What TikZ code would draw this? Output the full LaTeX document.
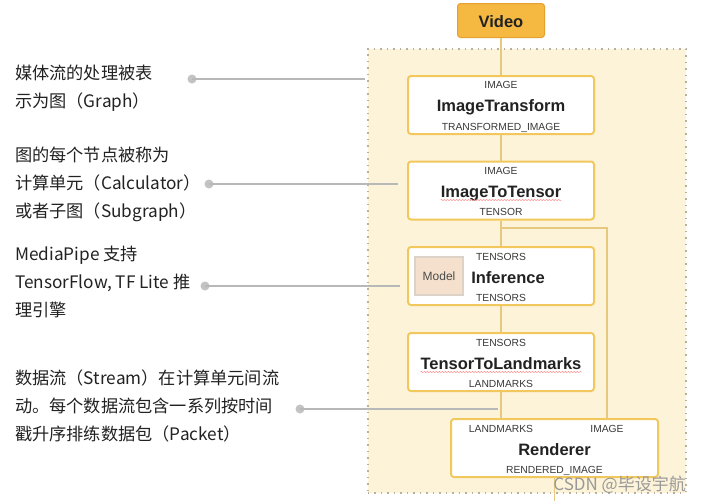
\documentclass[tikz,border=0pt]{standalone}
\usepackage{fontspec}
\setmainfont{Liberation Sans}
\newfontfamily\cjk{Noto Sans CJK SC}
\usetikzlibrary{decorations.pathmorphing}
\definecolor{videofill}{HTML}{F5B942}
\definecolor{videoedge}{HTML}{E6A030}
\definecolor{panelfill}{HTML}{FDF3D9}
\definecolor{paneldot}{HTML}{B8B09E}
\definecolor{boxedge}{HTML}{F2C85C}
\definecolor{flow}{HTML}{E6C97E}
\definecolor{modelfill}{HTML}{F4E0CC}
\definecolor{modeledge}{HTML}{DCD2C8}
\definecolor{callout}{HTML}{B8B8B8}
\definecolor{txt}{HTML}{222222}
\begin{document}
\begin{tikzpicture}[x=1pt,y=-1pt,
  calc/.style={draw=boxedge,line width=2pt,fill=white,rounded corners=3pt,minimum width=186pt,minimum height=58pt,inner sep=0pt},
  port/.style={font=\fontsize{10.3}{12}\selectfont,text=txt!90!white,inner sep=0pt,anchor=base},
  title/.style={font=\fontsize{16.5}{20}\selectfont\bfseries,text=txt,inner sep=0pt,anchor=base},
  note/.style={font=\cjk\fontsize{17.2}{28}\selectfont,text=txt,inner sep=0pt,anchor=base west,align=left},
  flowline/.style={draw=flow,line width=1.1pt},
  calloutline/.style={draw=callout,line width=1.8pt},
  calloutdot/.style={circle,fill=callout!85!white,minimum size=9pt,inner sep=0pt},
  squiggle/.style={draw=red!45,line width=0.5pt,decorate,decoration={snake,amplitude=0.6pt,segment length=3pt}}]
\useasboundingbox (0,0) rectangle (702,501);
\fill[white] (0,0) rectangle (702,501);
% panel
\node[draw=paneldot,fill=panelfill,line width=1.8pt,dash pattern=on 1.5pt off 5pt,minimum width=318pt,minimum height=444pt,anchor=north west,inner sep=0pt] (panel) at (367,48) {};
% video
\node[draw=videoedge,fill=videofill,line width=1pt,rounded corners=3pt,minimum width=87pt,minimum height=34pt,inner sep=0pt] (video) at (501,20.5) {};
\node[title,font=\fontsize{16.5}{20}\selectfont\bfseries] (videotxt) at (501,27) {Video};
% calculators
\node[calc] (it) at (501,105) {};
\node[calc] (itt) at (501,190.5) {};
\node[calc] (inf) at (501,276) {};
\node[calc] (ttl) at (501,362) {};
\node[calc,minimum width=207pt] (ren) at (554.5,448) {};
% connectors
\coordinate (split) at (501,228);
\coordinate (splitr) at (607,228);
\coordinate (renimg) at (607,419);
\coordinate (renland) at (501,419);
\coordinate (renout) at (554.5,501);
\draw[flowline] (video.south) -- (it.north);
\draw[flowline] (it.south) -- (itt.north);
\draw[flowline] (itt.south) -- (inf.north);
\draw[flowline] (inf.south) -- (ttl.north);
\draw[flowline] (ttl.south) -- (renland);
\draw[flowline] (split) -- (splitr) -- (renimg);
\draw[flowline] (ren.south) -- (renout);
\node[draw=modeledge,fill=modelfill,line width=1.2pt,minimum width=48pt,minimum height=38pt,inner sep=0pt] (model) at (439,276) {};
% labels
\node[port] (l1) at (501,88) {IMAGE};
\node[title] (t1) at (501,111) {ImageTransform};
\node[port] (l2) at (501,130) {TRANSFORMED\_IMAGE};
\node[port] (l3) at (501,174) {IMAGE};
\node[title] (t2) at (501,197) {ImageToTensor};
\node[port] (l4) at (501,215) {TENSOR};
\node[port] (l5) at (501,260) {TENSORS};
\node[title] (t3) at (508,283) {Inference};
\node[port] (l6) at (501,301) {TENSORS};
\node[port,font=\fontsize{12}{14}\selectfont,text=black!70] (mtxt) at (439,280.5) {Model};
\node[port] (l7) at (501,346) {TENSORS};
\node[title] (t4) at (501,369) {TensorToLandmarks};
\node[port] (l8) at (501,387) {LANDMARKS};
\node[port] (l9) at (501,432) {LANDMARKS};
\node[port] (l10) at (607,432) {IMAGE};
\node[title] (t5) at (554.5,455) {Renderer};
\node[port] (l11) at (554.5,473) {RENDERED\_IMAGE};
\draw[squiggle] ([yshift=-3pt]t2.base west) -- ([yshift=-3pt]t2.base east);
\draw[squiggle] ([yshift=-3pt]t4.base west) -- ([yshift=-3pt]t4.base east);
% callouts (anchor = baseline of last line)
\node[note] (n1) at (15,107) {媒体流的处理被表\\示为图（Graph）};
\node[note] (n2) at (15,217) {图的每个节点被称为\\计算单元（Calculator）\\或者子图（Subgraph）};
\node[note] (n3) at (15,316) {MediaPipe 支持\\TensorFlow, TF Lite 推\\理引擎};
\node[note] (n4) at (15,440) {数据流（Stream）在计算单元间流\\动。每个数据流包含一系列按时间\\戳升序排练数据包（Packet）};
\node[calloutdot] (d1) at (192,79) {};
\node[calloutdot] (d2) at (209,184) {};
\node[calloutdot] (d3) at (205,286) {};
\node[calloutdot] (d4) at (300,409) {};
\coordinate (e1) at (365,79);
\coordinate (e2) at (398,184);
\coordinate (e3) at (400,286);
\coordinate (e4) at (498,409);
\draw[calloutline] (d1.center) -- (e1);
\draw[calloutline] (d2.center) -- (e2);
\draw[calloutline] (d3.center) -- (e3);
\draw[calloutline] (d4.center) -- (e4);
% watermark
\node[font=\cjk\fontsize{17}{20}\selectfont,text=black!40,anchor=base east,inner sep=0pt] (wm) at (686,490) {CSDN @毕设宇航};
\end{tikzpicture}
\end{document}
